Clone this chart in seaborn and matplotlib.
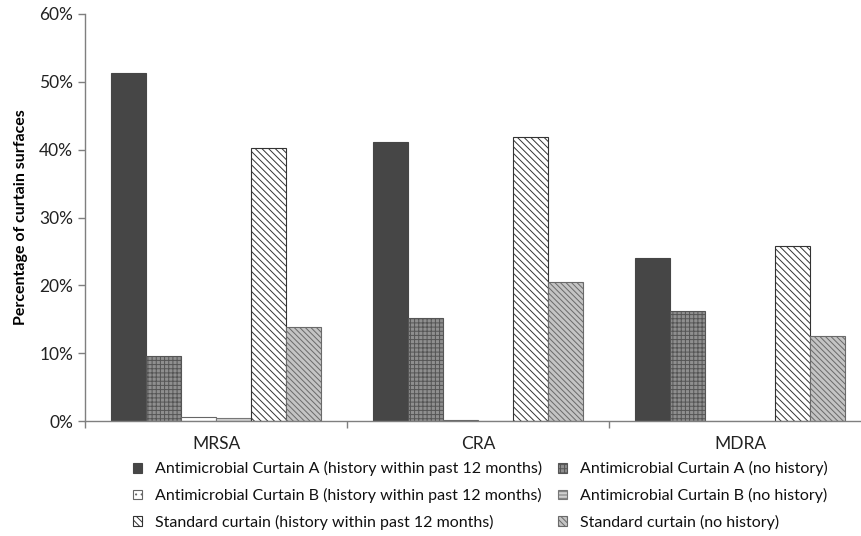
import numpy as np
import pandas as pd
import matplotlib
matplotlib.use("Agg")
import matplotlib.pyplot as plt
import seaborn as sns
from matplotlib.ticker import PercentFormatter, FixedLocator

categories = ["MRSA", "CRA", "MDRA"]
series = [
    "Antimicrobial Curtain A (history within past 12 months)",
    "Antimicrobial Curtain A (no history)",
    "Antimicrobial Curtain B (history within past 12 months)",
    "Antimicrobial Curtain B (no history)",
    "Standard curtain (history within past 12 months)",
    "Standard curtain (no history)",
]
a_hist = [0.513, 0.411, 0.241]
a_none = [0.096, 0.152, 0.162]
b_hist = [0.006, 0.001, 0.0]
b_none = [0.005, 0.0, 0.0]
s_hist = [0.403, 0.419, 0.258]
s_none = [0.139, 0.205, 0.125]
values = [a_hist, a_none, b_hist, b_none, s_hist, s_none]

rows = []
for s, vals in zip(series, values):
    for c, v in zip(categories, vals):
        rows.append({"organism": c, "curtain": s, "pct": v})
df = pd.DataFrame(rows)

sns.set_theme(style="white")
plt.rcParams["font.family"] = ["Lato", "DejaVu Sans"]
plt.rcParams["hatch.linewidth"] = 0.7

fig = plt.figure(figsize=(8.61, 5.36), dpi=100)
ax = fig.add_axes([85 / 861, 1 - 421 / 536, (871 - 85) / 861, (421 - 14) / 536])

face = ["#464646", "#8f8f8f", "#ffffff", "#d0d0d0", "#ffffff", "#c4c4c4"]
hatch_col = ["#464646", "#555555", "#666666", "#777777", "#333333", "#6a6a6a"]
hatches = [None, "++++", "...", "-----", "\\\\\\\\\\", "\\\\\\\\\\\\"]

sns.barplot(data=df, x="organism", y="pct", hue="curtain", order=categories,
            hue_order=series, palette=face, width=0.8, gap=0, ax=ax,
            legend=False, saturation=1)

for i, cont in enumerate(ax.containers):
    for p in cont.patches:
        p.set_facecolor(face[i])
        p.set_edgecolor(hatch_col[i])
        p.set_linewidth(0.8)
        if hatches[i]:
            p.set_hatch(hatches[i])

ax.set_ylim(0, 0.6)
ax.set_xlim(-0.5, 2.5)
ax.set_yticks(np.arange(0, 0.61, 0.1))
ax.yaxis.set_major_formatter(PercentFormatter(1.0, decimals=0))
ax.set_xlabel("")
ax.set_ylabel("Percentage of curtain surfaces", fontsize=11.5, fontweight="bold",
              color="#000000", labelpad=8)

for s in ["top", "right"]:
    ax.spines[s].set_visible(False)
for s in ["left", "bottom"]:
    ax.spines[s].set_color("#7f7f7f")
    ax.spines[s].set_linewidth(1.0)

ax.tick_params(axis="y", which="major", direction="out", length=5, width=1,
               color="#7f7f7f", labelsize=12.5, labelcolor="#222222", left=True)
ax.tick_params(axis="x", which="major", length=0, labelsize=12.5,
               labelcolor="#222222", pad=11, bottom=True)
ax.xaxis.set_minor_locator(FixedLocator([-0.5, 0.5, 1.5, 2.5]))
ax.tick_params(axis="x", which="minor", direction="out", length=5, width=1,
               color="#7f7f7f", bottom=True)

handles = [ax.containers[i].patches[0] for i in [0, 2, 4, 1, 3, 5]]
labels = [series[i] for i in [0, 2, 4, 1, 3, 5]]
leg = fig.legend(handles, labels, ncol=2, frameon=False, fontsize=11.5,
                 loc="upper left", bbox_to_anchor=(127 / 861, 1 - 455 / 536),
                 handlelength=0.56, handleheight=0.56, handletextpad=0.8,
                 columnspacing=1.0, labelspacing=0.72, borderaxespad=0)
for t in leg.get_texts():
    t.set_color("#111111")

fig.savefig("out.png", dpi=100)
